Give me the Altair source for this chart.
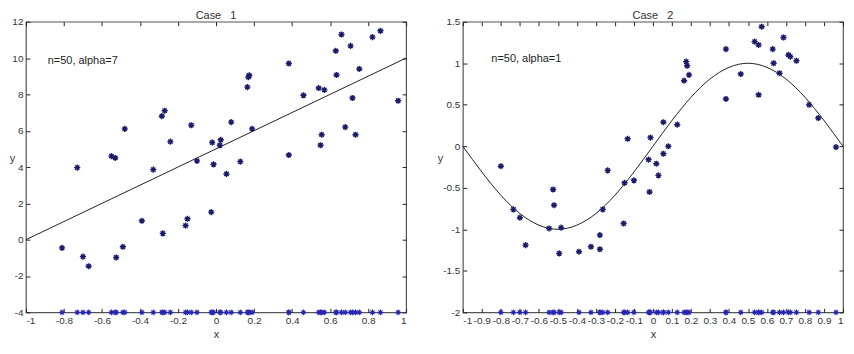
import altair as alt
import pandas as pd

# ---------------- data ----------------
case1_x = [-0.81, -0.73, -0.70, -0.67, -0.55, -0.53, -0.525, -0.49, -0.48, -0.39,
           -0.33, -0.285, -0.27, -0.28, -0.24, -0.16, -0.15, -0.13, -0.10, -0.025,
           -0.02, -0.013, 0.02, 0.025, 0.055, 0.08, 0.128, 0.165, 0.17, 0.175,
           0.19, 0.383, 0.383, 0.46, 0.54, 0.57, 0.55, 0.556, 0.63, 0.634,
           0.66, 0.68, 0.708, 0.718, 0.734, 0.754, 0.823, 0.865, 0.958]
case1_y = [-0.45, 3.97, -0.93, -1.46, 4.6, 4.5, -0.98, -0.39, 6.1, 1.04,
           3.86, 6.8, 7.1, 0.35, 5.4, 0.78, 1.15, 6.3, 4.34, 1.52,
           5.35, 4.15, 5.2, 5.5, 3.62, 6.47, 4.3, 8.4, 8.95, 9.05,
           6.1, 9.7, 4.66, 7.95, 8.35, 8.25, 5.2, 5.78, 10.4, 9.07,
           11.3, 6.2, 10.67, 7.8, 5.78, 9.4, 11.15, 11.5, 7.65]

case2_x = [-0.80, -0.734, -0.70, -0.67, -0.546, -0.525, -0.52, -0.493, -0.483, -0.389,
           -0.326, -0.279, -0.279, -0.264, -0.238, -0.154, -0.149, -0.133, -0.10, -0.023,
           -0.018, -0.013, 0.018, 0.029, 0.055, 0.055, 0.081, 0.128, 0.164, 0.175,
           0.18, 0.19, 0.384, 0.384, 0.462, 0.535, 0.556, 0.556, 0.572, 0.63,
           0.635, 0.666, 0.687, 0.713, 0.723, 0.755, 0.822, 0.87, 0.963]
case2_y = [-0.24, -0.76, -0.86, -1.19, -0.99, -0.52, -0.71, -1.29, -0.98, -1.27,
           -1.21, -1.24, -1.07, -0.76, -0.29, -0.93, -0.44, 0.09, -0.41, -0.16,
           -0.55, 0.105, -0.21, -0.35, -0.09, 0.29, 0.0, 0.26, 0.79, 1.02,
           0.97, 0.86, 1.17, 0.57, 0.87, 1.26, 1.22, 0.62, 1.44, 1.17,
           1.0, 0.88, 1.31, 1.1, 1.08, 1.03, 0.5, 0.34, -0.01]

line1_x = [-1, 1]
line1_y = [0, 10]

curve2_x = [-1, -0.9, -0.8, -0.7, -0.6, -0.5, -0.4, -0.3, -0.2, -0.1, 0,
            0.1, 0.2, 0.3, 0.4, 0.5, 0.6, 0.7, 0.8, 0.9, 1]
curve2_y = [0, -0.31, -0.59, -0.81, -0.95, -1, -0.95, -0.81, -0.59, -0.31, 0,
            0.31, 0.59, 0.81, 0.95, 1, 0.95, 0.81, 0.59, 0.31, 0]

x1_ticks = [-1, -0.8, -0.6, -0.4, -0.2, 0, 0.2, 0.4, 0.6, 0.8, 1]
y1_ticks = [-4, -2, 0, 2, 4, 6, 8, 10, 12]
x2_ticks = [-1, -0.9, -0.8, -0.7, -0.6, -0.5, -0.4, -0.3, -0.2, -0.1, 0,
            0.1, 0.2, 0.3, 0.4, 0.5, 0.6, 0.7, 0.8, 0.9, 1]
y2_ticks = [-2, -1.5, -1, -0.5, 0, 0.5, 1, 1.5]

x_domain = [-1, 1]
y1_domain = [-4, 12]
y2_domain = [-2, 1.5]
floor1 = -4
floor2 = -2

titles = ["Case\u00a0\u00a0\u00a01", "Case\u00a0\u00a0\u00a02"]
notes = ["n=50, alpha=7", "n=50, alpha=1"]
note1_pos = (-0.885, 9.82)
note2_pos = (-0.85, 1.05)

# ---------------- styling ----------------
W, H = 382, 292
FONT = "Liberation Sans"
STAR = "M-1,0L1,0M0,-1L0,1M-0.7,-0.7L0.7,0.7M-0.7,0.7L0.7,-0.7"
PT_COLOR = "#1a1a6a"
FLOOR_COLOR = "#2626b0"
INK = "#222222"
AX = "#555555"


def tick_axis(orient, values, offset):
    return alt.Axis(orient=orient, offset=offset, values=values, labels=False,
                    domain=False, grid=False, tickSize=4, tickColor=INK,
                    tickWidth=1, title="")


def panel(xs, ys, lx, ly, interp, xt, yt, ydom, floor, note, note_pos, title, ytx):
    xscale = alt.Scale(domain=x_domain, nice=False, zero=False)
    yscale = alt.Scale(domain=ydom, nice=False, zero=False)

    pts = pd.DataFrame({"x": xs, "y": ys, "f": [floor] * len(xs)})
    ln = pd.DataFrame({"x": lx, "y": ly})
    nt = pd.DataFrame({"x": [note_pos[0]], "y": [note_pos[1]], "t": [note]})

    ax_main = alt.Axis(orient="bottom", values=xt, labelExpr="'' + datum.value",
                       tickSize=0, domain=False, grid=False, title="x",
                       labelFont=FONT, labelFontSize=10, labelColor="#333",
                       labelPadding=3, titleFont=FONT, titleFontSize=11,
                       titleFontWeight="normal", titleColor="#333", titlePadding=3)
    ay_main = alt.Axis(orient="left", values=yt, labelExpr="'' + datum.value",
                       tickSize=0, domain=False, grid=False, title="y",
                       labelFont=FONT, labelFontSize=10, labelColor="#333",
                       labelPadding=3, titleFont=FONT, titleFontSize=11,
                       titleFontWeight="normal", titleColor="#333",
                       titleAngle=0, titleX=ytx, titleY=H * 0.47,
                       titleAlign="center", titleBaseline="middle")

    scatter = alt.Chart(pts).mark_point(shape=STAR, filled=False, size=38,
                                        strokeWidth=1.4, color=PT_COLOR, opacity=1).encode(
        x=alt.X("x:Q", scale=xscale, axis=ax_main),
        y=alt.Y("y:Q", scale=yscale, axis=ay_main),
    )
    floor_pts = alt.Chart(pts).mark_point(shape=STAR, filled=False, size=32,
                                          strokeWidth=1.1, color=FLOOR_COLOR, opacity=1).encode(
        x=alt.X("x:Q", scale=xscale, axis=tick_axis("top", xt, -H)),
        y=alt.Y("f:Q", scale=yscale, axis=tick_axis("right", yt, -W)),
    )
    line = alt.Chart(ln).mark_line(color=INK, strokeWidth=1, interpolate=interp).encode(
        x=alt.X("x:Q", scale=xscale, axis=tick_axis("bottom", xt, -H)),
        y=alt.Y("y:Q", scale=yscale, axis=tick_axis("left", yt, -W)),
    )
    text = alt.Chart(nt).mark_text(align="left", baseline="middle", font=FONT,
                                   fontSize=11, color=INK).encode(
        x=alt.X("x:Q", scale=xscale, axis=None),
        y=alt.Y("y:Q", scale=yscale, axis=None),
        text="t:N",
    )
    return alt.layer(line, scatter, floor_pts, text).resolve_axis(
        x="independent", y="independent"
    ).properties(
        width=W, height=H,
        title=alt.TitleParams(title, font=FONT, fontSize=11, fontWeight="normal",
                              color="#333", offset=-4),
    )


p1 = panel(case1_x, case1_y, line1_x, line1_y, "linear", x1_ticks, y1_ticks,
           y1_domain, floor1, notes[0], note1_pos, titles[0], -14)
p2 = panel(case2_x, case2_y, curve2_x, curve2_y, "natural", x2_ticks, y2_ticks,
           y2_domain, floor2, notes[1], note2_pos, titles[1], -23)

chart = alt.hconcat(p1, p2, spacing=27).properties(
    padding={"left": 0, "top": 0, "right": 0, "bottom": 0}
).configure_view(stroke=AX, strokeWidth=1.2)

chart.save("out.html", embed_options={"renderer": "svg", "actions": False})
